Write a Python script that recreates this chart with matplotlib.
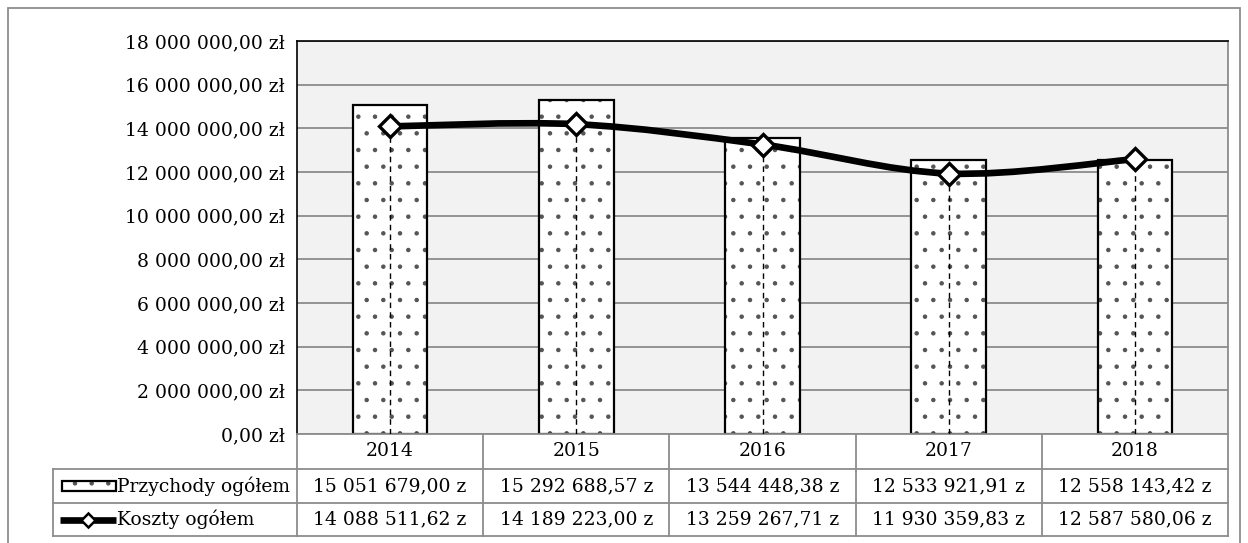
import matplotlib
matplotlib.use("Agg")
import matplotlib.pyplot as plt
import matplotlib.ticker as mticker
from matplotlib.path import Path
from matplotlib.patches import PathPatch, Rectangle
from matplotlib.lines import Line2D
from matplotlib.transforms import blended_transform_factory
import numpy as np

# ── data ────────────────────────────────────────────────────────────────────
years = ["2014", "2015", "2016", "2017", "2018"]
przychody = [15051679.00, 15292688.57, 13544448.38, 12533921.91, 12558143.42]
koszty = [14088511.62, 14189223.00, 13259267.71, 11930359.83, 12587580.06]
przychody_txt = ["15 051 679,00 z", "15 292 688,57 z", "13 544 448,38 z",
                 "12 533 921,91 z", "12 558 143,42 z"]
koszty_txt = ["14 088 511,62 z", "14 189 223,00 z", "13 259 267,71 z",
              "11 930 359,83 z", "12 587 580,06 z"]
series_names = ["Przychody ogółem", "Koszty ogółem"]

# ── style ───────────────────────────────────────────────────────────────────
plt.rcParams["font.family"] = ["DejaVu Serif"]
plt.rcParams["hatch.linewidth"] = 0.8
FS = 13.5
GRID = "#8c8c8c"
W, H = 1248, 543

fig = plt.figure(figsize=(W / 100, H / 100), dpi=100)
L, R, T, B = 297, 1228, 41, 434
ax = fig.add_axes([L / W, 1 - B / H, (R - L) / W, (B - T) / H])
ax.set_facecolor("#f2f2f2")

x = np.arange(len(years))
ax.set_xlim(-0.5, len(years) - 0.5)
ax.set_ylim(0, 18_000_000)
ax.yaxis.set_major_locator(mticker.MultipleLocator(2_000_000))
ax.yaxis.set_major_formatter(mticker.FuncFormatter(
    lambda v, _: f"{v:,.2f}".replace(",", " ").replace(".", ",") + " zł"))
ax.tick_params(axis="y", length=0, pad=9, labelsize=FS, colors="black")
ax.set_xticks([])
ax.grid(axis="y", color=GRID, linewidth=1.3)
ax.set_axisbelow(True)
for side in ("top", "left"):
    ax.spines[side].set_color("black")
    ax.spines[side].set_linewidth(1.2)
for side in ("right", "bottom"):
    ax.spines[side].set_color(GRID)
    ax.spines[side].set_linewidth(1.3)

# bars: dotted fill, then black outline on top
ax.bar(x, przychody, width=0.4, color="white", edgecolor="#555555",
       linewidth=0, hatch=".", zorder=2)
ax.bar(x, przychody, width=0.4, color="none", edgecolor="black",
       linewidth=1.6, zorder=2.5)

# drop lines
ax.vlines(x, 0, koszty, colors="black", linestyles=(0, (4, 3)),
          linewidth=1.0, zorder=3)

# smoothed line (bezier segments through the points)
pts = np.column_stack([x, koszty]).astype(float)
verts = [tuple(pts[0])]
codes = [Path.MOVETO]
for i in range(len(pts) - 1):
    p0 = pts[i - 1] if i > 0 else pts[i]
    p1, p2 = pts[i], pts[i + 1]
    p3 = pts[i + 2] if i + 2 < len(pts) else pts[i + 1]
    c1 = p1 + (p2 - p0) / 6
    c2 = p2 - (p3 - p1) / 6
    verts += [tuple(c1), tuple(c2), tuple(p2)]
    codes += [Path.CURVE4] * 3
ax.add_patch(PathPatch(Path(verts, codes), facecolor="none",
                       edgecolor="black", linewidth=4.8, zorder=4,
                       capstyle="round"))
ax.plot(x, koszty, linestyle="none", marker="D", markersize=11,
        markerfacecolor="white", markeredgecolor="black",
        markeredgewidth=2.4, zorder=5)

# ── data table ──────────────────────────────────────────────────────────────
def fx(px):
    return (px - L) / (R - L)


def fy(py):
    return (B - py) / (B - T)


rows_y = [434, 469, 503, 536]
left_x = 53
col_edges = [L + (R - L) * i / len(years) for i in range(len(years) + 1)]
line_kw = dict(color=GRID, linewidth=1.3, transform=ax.transAxes,
               clip_on=False)

for yy in rows_y[1:]:
    ax.add_line(Line2D([fx(left_x), fx(R)], [fy(yy)] * 2, **line_kw))
ax.add_line(Line2D([fx(left_x)] * 2, [fy(rows_y[1]), fy(rows_y[3])], **line_kw))
for ce in col_edges:
    ax.add_line(Line2D([fx(ce)] * 2, [fy(rows_y[0]), fy(rows_y[3])], **line_kw))

tr = blended_transform_factory(ax.transData, ax.transAxes)
row_mid = [(rows_y[i] + rows_y[i + 1]) / 2 for i in range(3)]
for i, yr in enumerate(years):
    ax.text(i, fy(row_mid[0]), yr, transform=tr, ha="center", va="center",
            fontsize=FS)
    ax.text(i, fy(row_mid[1]), przychody_txt[i], transform=tr, ha="center",
            va="center", fontsize=FS)
    ax.text(i, fy(row_mid[2]), koszty_txt[i], transform=tr, ha="center",
            va="center", fontsize=FS)

# legend keys in the row headers
ax.add_patch(Rectangle((fx(62), fy(491)), fx(116) - fx(62), fy(481) - fy(491),
                       transform=ax.transAxes, clip_on=False,
                       facecolor="white", edgecolor="#555555", linewidth=0,
                       hatch="."))
ax.add_patch(Rectangle((fx(62), fy(491)), fx(116) - fx(62), fy(481) - fy(491),
                       transform=ax.transAxes, clip_on=False,
                       facecolor="none", edgecolor="black", linewidth=1.6))
ax.add_line(Line2D([fx(60), fx(116)], [fy(row_mid[2])] * 2,
                   transform=ax.transAxes, clip_on=False, color="black",
                   linewidth=4.8, solid_capstyle="butt"))
ax.add_line(Line2D([fx(88)], [fy(row_mid[2])], transform=ax.transAxes,
                   clip_on=False, linestyle="none", marker="D", markersize=7,
                   markerfacecolor="white", markeredgecolor="black",
                   markeredgewidth=1.8))
ax.text(fx(117), fy(row_mid[1]), series_names[0], transform=ax.transAxes,
        ha="left", va="center", fontsize=FS)
ax.text(fx(117), fy(row_mid[2]), series_names[1], transform=ax.transAxes,
        ha="left", va="center", fontsize=FS)

# outer chart border
fig.patches.append(Rectangle((8 / W, -0.01), 1232 / W, 1 - 8 / H + 0.01,
                             transform=fig.transFigure, facecolor="none",
                             edgecolor=GRID, linewidth=1.3))

fig.savefig("out.png", dpi=100, facecolor="white")
